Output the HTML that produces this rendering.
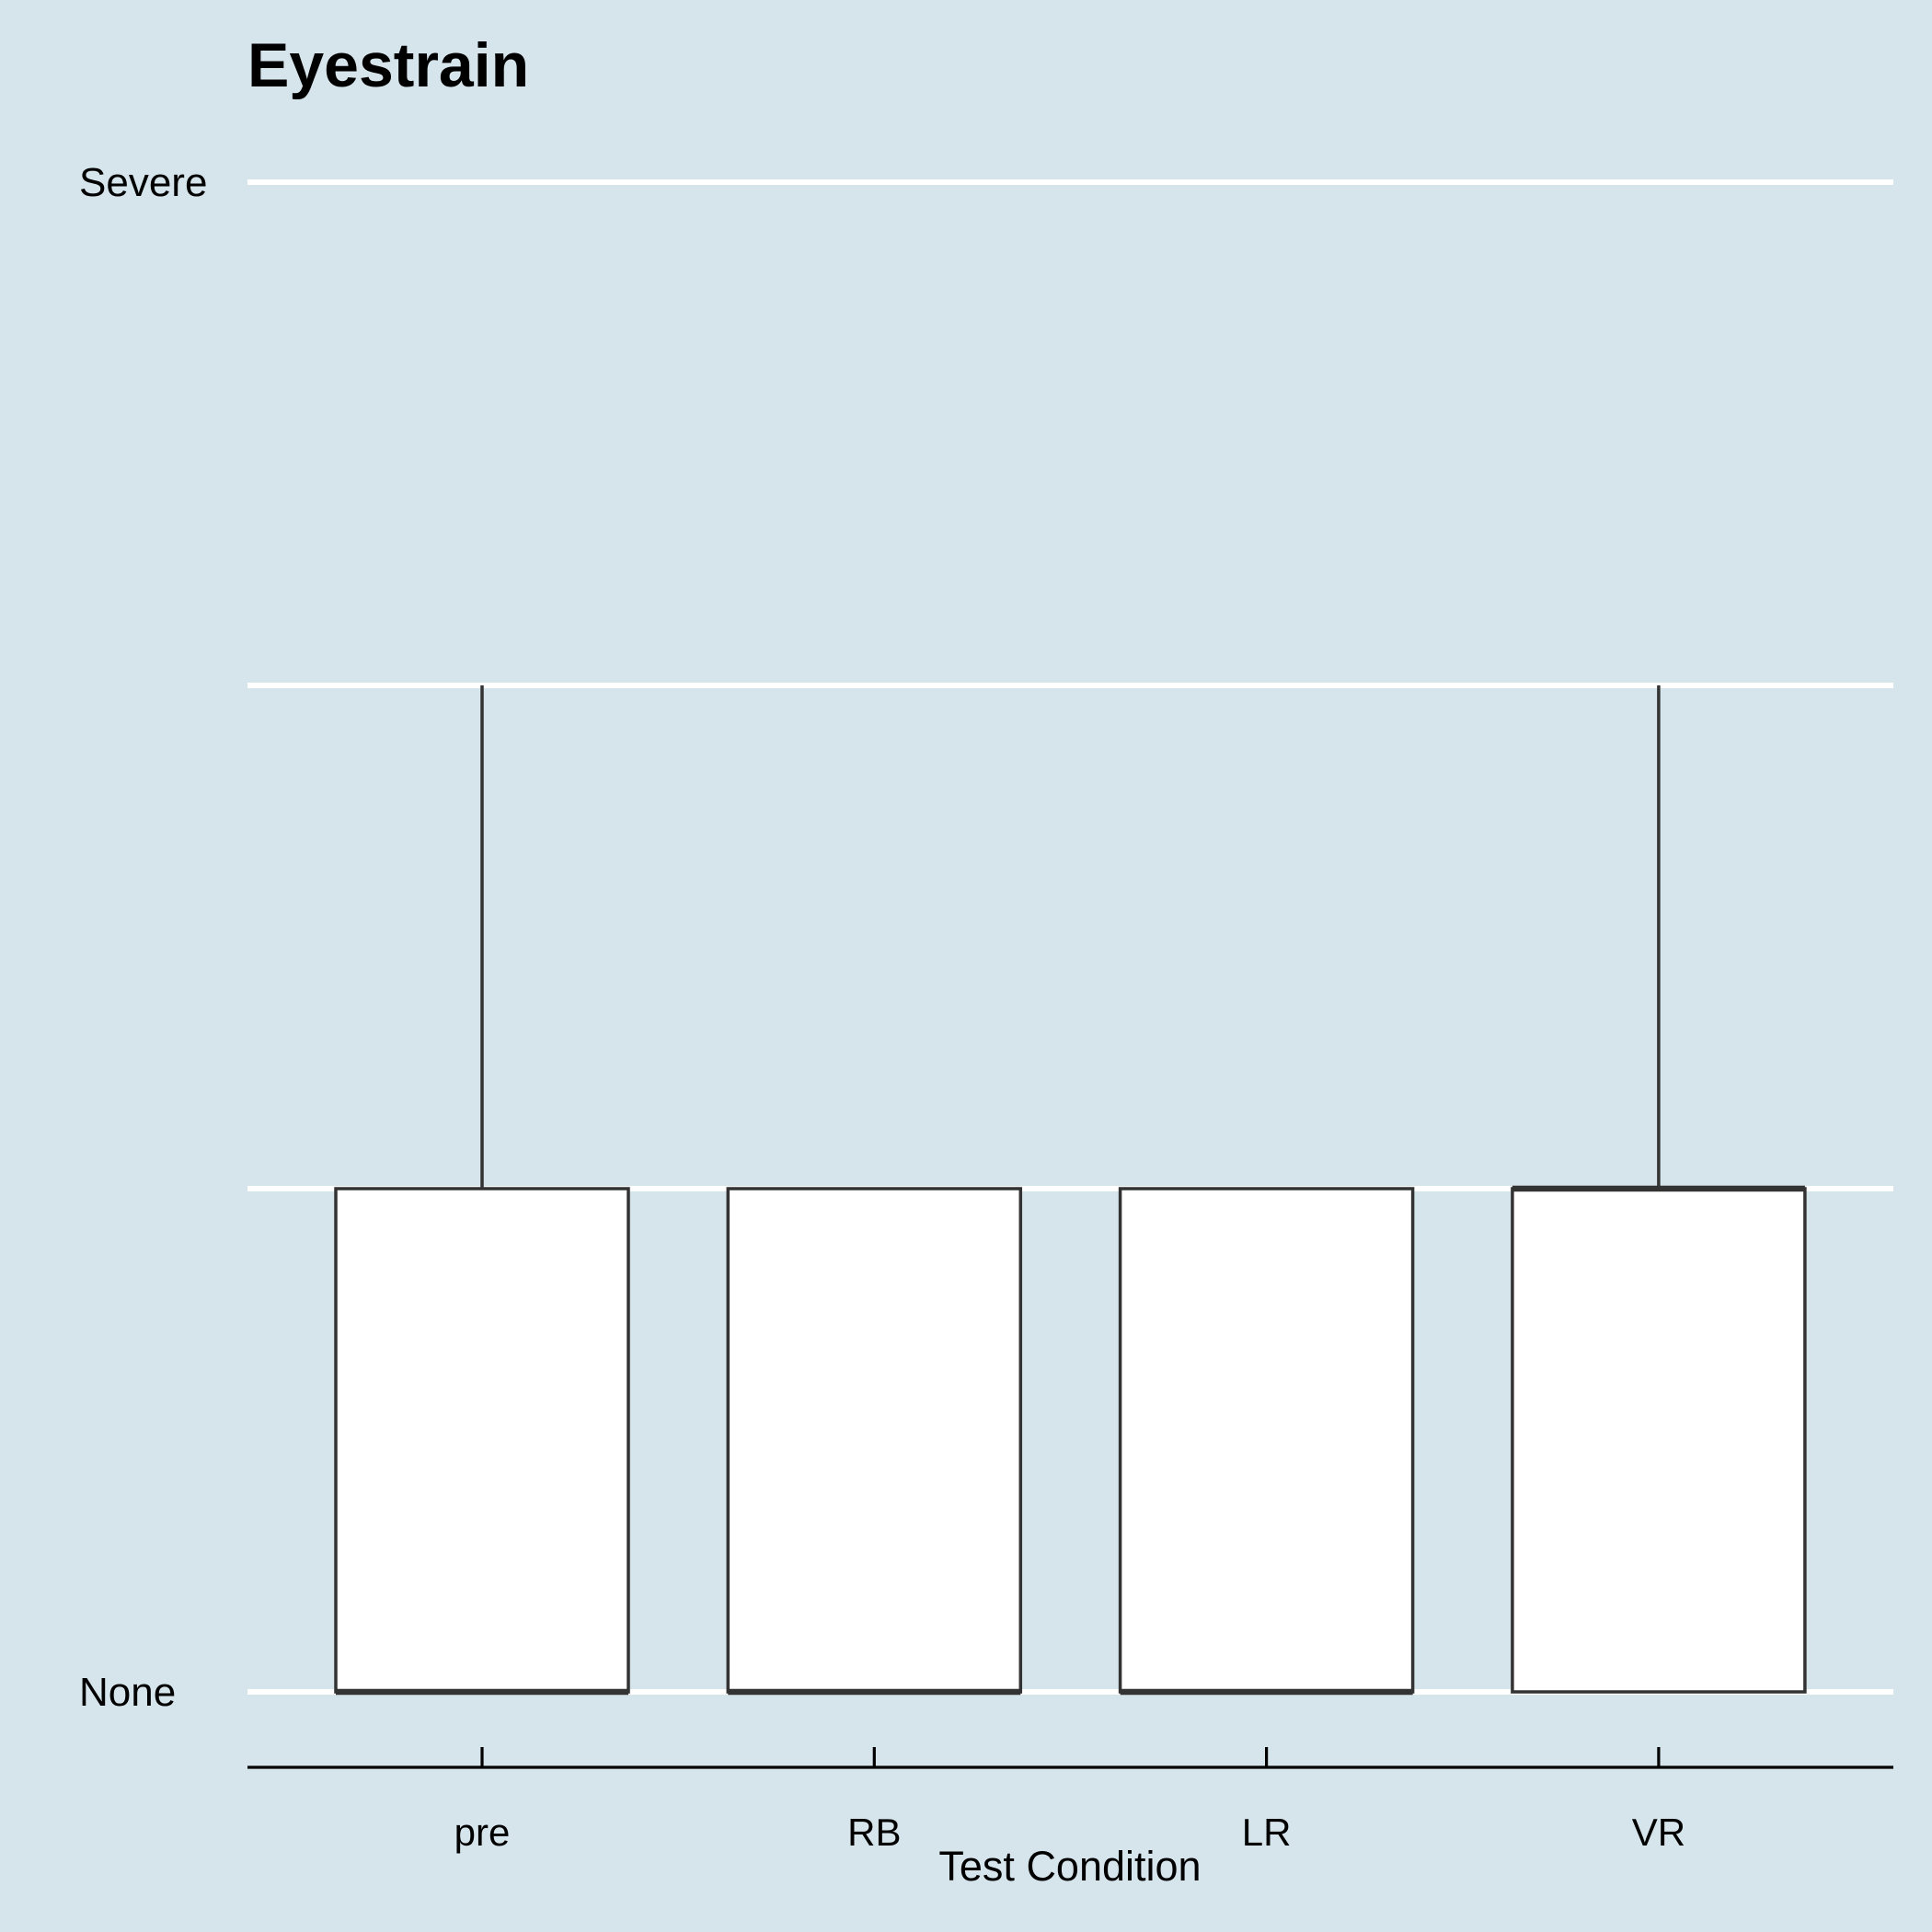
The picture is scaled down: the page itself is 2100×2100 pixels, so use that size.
<!DOCTYPE html>
<html><head><meta charset="utf-8"><style>
html,body{margin:0;padding:0;background:#d6e4eb;}
svg{display:block;font-family:"Liberation Sans",Arial,sans-serif;}
</style></head><body>
<svg id="chart" width="2100" height="2100" viewBox="0 0 2100 2100" xmlns="http://www.w3.org/2000/svg">
<rect width="2100" height="2100" fill="#d6e4eb"/>
<text x="269" y="94" font-size="68" font-weight="bold" fill="#000">Eyestrain</text>
<g id="grid"></g><g id="boxes"></g><g id="axes"></g>
<text x="1163" y="2044" font-size="45" text-anchor="middle" fill="#000">Test Condition</text>
</svg>
<script>
const categories = ["pre","RB","LR","VR"];
const q1Values = [0,0,0,0];
const medianValues = [0,0,0,1];
const q3Values = [1,1,1,1];
const minValues = [0,0,0,0];
const maxValues = [2,1,1,2];
const gridLevels = [0,1,2,3];
const yTickLabels = {0:"None",3:"Severe"};

const NS="http://www.w3.org/2000/svg";
const plotL=269, plotR=2058, y0=1839, y3=198;
const yScale=v=>y0+(y3-y0)*v/3;
const xScale=i=>524+i*426.3;
const halfW=159;
function mk(tag,attrs,parent){const e=document.createElementNS(NS,tag);for(const k in attrs)e.setAttribute(k,attrs[k]);parent.appendChild(e);return e;}
const grid=document.getElementById('grid'),boxes=document.getElementById('boxes'),axes=document.getElementById('axes');
gridLevels.forEach(v=>{
  const l=mk('line',{x1:plotL,x2:plotR,y1:yScale(v),y2:yScale(v),stroke:'#fff','stroke-width':6},grid);
  
  
  if(yTickLabels[v]){
    const t=mk('text',{x:86,y:yScale(v)+15,'font-size':44,fill:'#000'},grid);
    t.textContent=yTickLabels[v];
    
    
  }
});
categories.forEach((c,i)=>{
  const cx=xScale(i);
  const g=mk('g',{},boxes);
  
  
  if(maxValues[i]>q3Values[i]) mk('line',{x1:cx,x2:cx,y1:yScale(q3Values[i]),y2:yScale(maxValues[i]),stroke:'#333','stroke-width':3.5},g);
  if(minValues[i]<q1Values[i]) mk('line',{x1:cx,x2:cx,y1:yScale(q1Values[i]),y2:yScale(minValues[i]),stroke:'#333','stroke-width':3.5},g);
  mk('rect',{x:cx-halfW,y:yScale(q3Values[i]),width:2*halfW,height:yScale(q1Values[i])-yScale(q3Values[i]),fill:'#fff',stroke:'#333','stroke-width':3.5},g);
  mk('line',{x1:cx-halfW,x2:cx+halfW,y1:yScale(medianValues[i]),y2:yScale(medianValues[i]),stroke:'#333','stroke-width':6.5},g);
  const tk=mk('line',{x1:cx,x2:cx,y1:1899,y2:1921,stroke:'#000','stroke-width':3.2},axes);
  
  
  const t=mk('text',{x:cx,y:2006,'font-size':42,'text-anchor':'middle',fill:'#000'},axes);
  t.textContent=c;
  
  
});
const ax=mk('line',{x1:plotL,x2:plotR,y1:1921,y2:1921,stroke:'#000','stroke-width':3.2},axes);


</script>
</body></html>
